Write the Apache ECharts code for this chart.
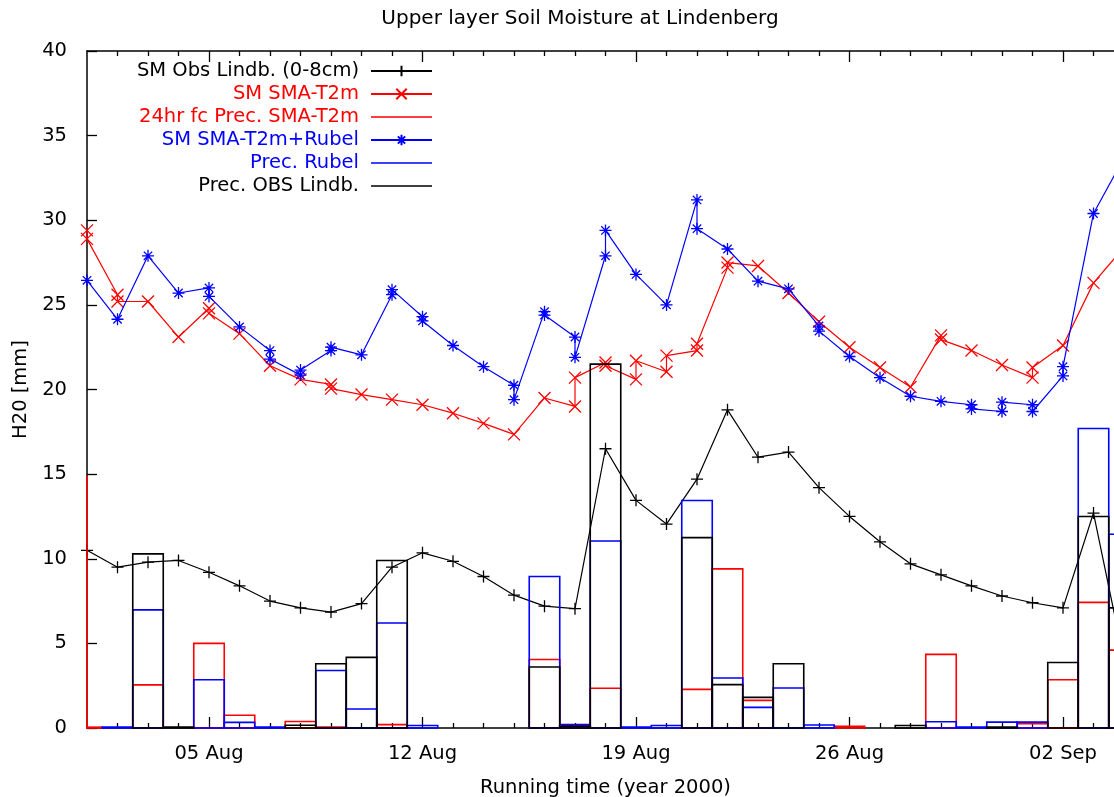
<!DOCTYPE html>
<html>
<head>
<meta charset="utf-8">
<title>Upper layer Soil Moisture at Lindenberg</title>
<script src="https://cdn.jsdelivr.net/npm/echarts@6/dist/echarts.min.js"></script>
<style>
  html, body { margin: 0; padding: 0; background: #fff; overflow: hidden; }
  #chart { width: 1114px; height: 797px; }
</style>
</head>
<body>
<div id="chart"></div>
<script>
// Time axis: days counted from 1 = 01 Aug 2000 (32 = 01 Sep).
const X_MIN = 1;
const X_MAX = 35;
const majorTickDays = [5, 12, 19, 26, 33];
const majorTickLabels = ['05 Aug', '12 Aug', '19 Aug', '26 Aug', '02 Sep'];

// Soil moisture, one entry per day starting 01 Aug; a pair marks the
// end of one forecast run and the start of the next at the same time.
const smObsFirstDay = 1;
const smObs = [10.5, 9.5, 9.8, 9.9, 9.2, 8.4, 7.5, 7.1, 6.85, 7.35,
  9.5, 10.35, 9.85, 8.95, 7.85, 7.2, 7.05, 16.5, 13.45, 12.05,
  14.7, 18.8, 16.0, 16.3, 14.2, 12.5, 11.0, 9.7, 9.05, 8.4,
  7.8, 7.4, 7.1, 12.7, 4.0];

const smT2m = [[29.4, 28.9], [25.6, 25.2], 25.2, 23.1, [24.8, 24.5], 23.3, 21.4, 20.6, [20.3, 20.05], 19.7,
  19.4, 19.1, 18.6, 18.0, 17.35, 19.5, [19.0, 20.7], [21.6, 21.4], [20.6, 21.7], [21.05, 22.0],
  [22.3, 22.7], [27.2, 27.5], 27.3, 25.7, 24.0, 22.5, 21.3, 20.15, [23.2, 22.95], 22.3,
  21.45, [20.7, 21.3], 22.6, 26.3, 28.4];

const smRubel = [26.45, 24.15, 27.9, 25.7, [26.0, 25.5], 23.7, [22.3, 21.8], [20.85, 21.15], [22.3, 22.5], 22.05,
  [25.6, 25.9], [24.3, 24.05], 22.6, 21.35, [20.25, 19.4], [24.6, 24.4], [23.1, 21.9], [27.9, 29.4], 26.8, 25.0,
  [31.2, 29.5], 28.3, 26.4, 25.95, [23.75, 23.45], 21.95, 20.7, 19.6, 19.3, [19.1, 18.85],
  [18.7, 19.25], [19.1, 18.7], [20.8, 21.35], 30.4, 33.7];

// Daily precipitation totals, one entry per day starting 31 Jul (day 0).
const precFirstDay = 0;
const precFcT2m = [14.9, 0.05, null, 2.55, null, 5.0, 0.75, null, 0.38, 0.05,
  null, 0.2, null, null, null, null, 4.05, 0.15, 2.35, null,
  null, 2.28, 9.4, 1.63, null, null, 0.1, null, null, 4.35,
  null, null, 0.25, 2.85, 7.42, 4.6];
const precRubel = [null, null, 0.05, 6.98, null, 2.85, 0.33, 0.05, null, 3.4,
  1.12, 6.2, 0.15, null, null, null, 8.95, 0.2, 11.05, 0.05,
  0.15, 13.44, 2.95, 1.22, 2.36, 0.18, null, null, null, 0.37,
  0.05, 0.35, 0.35, null, 17.7, 11.45];
const precObs = [null, null, null, 10.29, 0.05, null, null, null, 0.16, 3.8,
  4.17, 9.9, null, null, null, null, 3.6, 0.1, 21.5, null,
  null, 11.25, 2.56, 1.81, 3.8, null, null, null, 0.15, null,
  null, 0.05, null, 3.87, 12.5, 7.1];

const FONT = 'DejaVu Sans';
const FONT_SIZE = 19.5;
const RED = '#ff0000';
const BLUE = '#0000ff';
const BLACK = '#000000';
const CANVAS_WIDTH = 1114;

// Point markers: plus, cross and asterisk, drawn as strokes.
const PLUS = 'path://M0,5H10M5,0V10';
const CROSS = 'path://M0,0L10,10M10,0L0,10';
const STAR = 'path://M0,5H10M5,0V10M1.5,1.5L8.5,8.5M8.5,1.5L1.5,8.5';
// Plain line sample for the precipitation legend entries.
const LINE_ICON = 'path://M0,0h0.001v0.001h-0.001zM0,5.75h61v1.5h-61zM0,13h0.001v0.001h-0.001z';

function toPoints(firstDay, values) {
  const pts = [];
  values.forEach(function (v, i) {
    const day = firstDay + i;
    (Array.isArray(v) ? v : [v]).forEach(function (y) { pts.push([day, y]); });
  });
  return pts;
}

function toBins(firstDay, values) {
  const out = [];
  values.forEach(function (v, i) {
    if (v != null) out.push([firstDay + i, v]);
  });
  return out;
}

// Each daily total is an open box one day wide, centred on the day;
// boxes reaching past the axis range are squeezed onto its border.
function boxRenderer(color) {
  return function (params, api) {
    const day = api.value(0);
    const v = api.value(1);
    const l = Math.min(Math.max(day - 0.5, X_MIN), X_MAX);
    const r = Math.min(Math.max(day + 0.5, X_MIN), X_MAX);
    const a = api.coord([l, 0]);
    const b = api.coord([r, v]);
    return {
      type: 'polygon',
      shape: { points: [[a[0], a[1]], [a[0], b[1]], [b[0], b[1]], [b[0], a[1]]] },
      style: { fill: 'none', stroke: color, lineWidth: 1.6 }
    };
  };
}

function smSeries(name, data, color, symbol, z) {
  return {
    name: name, type: 'line', data: data, z: z,
    symbol: symbol, symbolSize: 12, showSymbol: true,
    color: color,
    lineStyle: { color: color, width: 1.2 },
    itemStyle: { color: color, borderColor: color, borderWidth: 1.3 },
    emphasis: { disabled: true },
    animation: false
  };
}

function boxSeries(name, data, color, z) {
  return {
    name: name, type: 'custom', data: data, z: z,
    coordinateSystem: 'cartesian2d',
    renderItem: boxRenderer(color),
    itemStyle: { color: color },
    clip: false,
    animation: false
  };
}

const minorTickDays = [];
for (let d = X_MIN + 1; d < X_MAX; d++) {
  if (majorTickDays.indexOf(d) < 0) minorTickDays.push(d);
}

const axisLineStyle = { color: BLACK, width: 1.5 };
const textBase = { fontFamily: FONT, fontSize: FONT_SIZE, color: BLACK };

function tickAxis(position, days, length, withLine) {
  return {
    type: 'value', position: position, min: X_MIN, max: X_MAX,
    axisLine: { show: withLine, onZero: false, lineStyle: axisLineStyle },
    axisTick: { show: true, inside: true, length: length, customValues: days, lineStyle: { color: BLACK, width: 1.3 } },
    axisLabel: { show: false },
    splitLine: { show: false }
  };
}

const bottomAxis = tickAxis('bottom', majorTickDays, 11, true);
bottomAxis.axisLabel = {
  show: true, customValues: majorTickDays, margin: 16,
  fontFamily: FONT, fontSize: FONT_SIZE, color: BLACK,
  formatter: function (v) { return majorTickLabels[majorTickDays.indexOf(v)]; }
};
bottomAxis.name = 'Running time (year 2000)';
bottomAxis.nameLocation = 'middle';
bottomAxis.nameGap = 50;
bottomAxis.nameTextStyle = textBase;

const chart = echarts.init(document.getElementById('chart'), null, { renderer: 'canvas' });
chart.setOption({
  backgroundColor: '#ffffff',
  animation: false,
  title: {
    text: 'Upper layer Soil Moisture at Lindenberg',
    left: 580, top: 9, padding: 0, textAlign: 'center',
    textStyle: { fontFamily: FONT, fontSize: 20, fontWeight: 'normal', color: BLACK }
  },
  // The plot frame runs to 04 Sep, a little past the right edge of the canvas.
  grid: { left: 87, width: 1037, top: 51, bottom: 69, containLabel: false, outerBoundsMode: 'none' },
  legend: {
    orient: 'vertical', align: 'right', right: CANVAS_WIDTH - 433, top: 61, padding: 0,
    itemGap: 3, itemWidth: 61, itemHeight: 13, selectedMode: false,
    textStyle: { fontFamily: FONT, fontSize: FONT_SIZE, padding: [0, 7, 0, 0] },
    data: [
      { name: 'SM Obs Lindb. (0-8cm)', textStyle: { color: BLACK } },
      { name: 'SM SMA-T2m', textStyle: { color: RED } },
      { name: '24hr fc Prec. SMA-T2m', icon: LINE_ICON, textStyle: { color: RED }, itemStyle: { color: RED, borderWidth: 0 } },
      { name: 'SM SMA-T2m+Rubel', textStyle: { color: BLUE } },
      { name: 'Prec. Rubel', icon: LINE_ICON, textStyle: { color: BLUE }, itemStyle: { color: BLUE, borderWidth: 0 } },
      { name: 'Prec. OBS Lindb.', icon: LINE_ICON, textStyle: { color: BLACK }, itemStyle: { color: BLACK, borderWidth: 0 } }
    ]
  },
  xAxis: [
    bottomAxis,
    tickAxis('bottom', minorTickDays, 5, false),
    tickAxis('top', majorTickDays, 11, true),
    tickAxis('top', minorTickDays, 5, false)
  ],
  yAxis: {
    type: 'value', min: 0, max: 40, interval: 5,
    axisLine: { show: true, lineStyle: axisLineStyle },
    axisTick: { show: true, inside: true, length: 10, lineStyle: { color: BLACK, width: 1.3 } },
    axisLabel: { margin: 20, fontFamily: FONT, fontSize: FONT_SIZE, color: BLACK },
    splitLine: { show: false },
    name: 'H20 [mm]', nameLocation: 'middle', nameGap: 44, nameRotate: 90,
    nameTextStyle: textBase
  },
  series: [
    smSeries('SM Obs Lindb. (0-8cm)', toPoints(smObsFirstDay, smObs), BLACK, PLUS, 3),
    smSeries('SM SMA-T2m', toPoints(1, smT2m), RED, CROSS, 4),
    boxSeries('24hr fc Prec. SMA-T2m', toBins(precFirstDay, precFcT2m), RED, 5),
    smSeries('SM SMA-T2m+Rubel', toPoints(1, smRubel), BLUE, STAR, 6),
    boxSeries('Prec. Rubel', toBins(precFirstDay, precRubel), BLUE, 7),
    boxSeries('Prec. OBS Lindb.', toBins(precFirstDay, precObs), BLACK, 8)
  ]
});
</script>
</body>
</html>
